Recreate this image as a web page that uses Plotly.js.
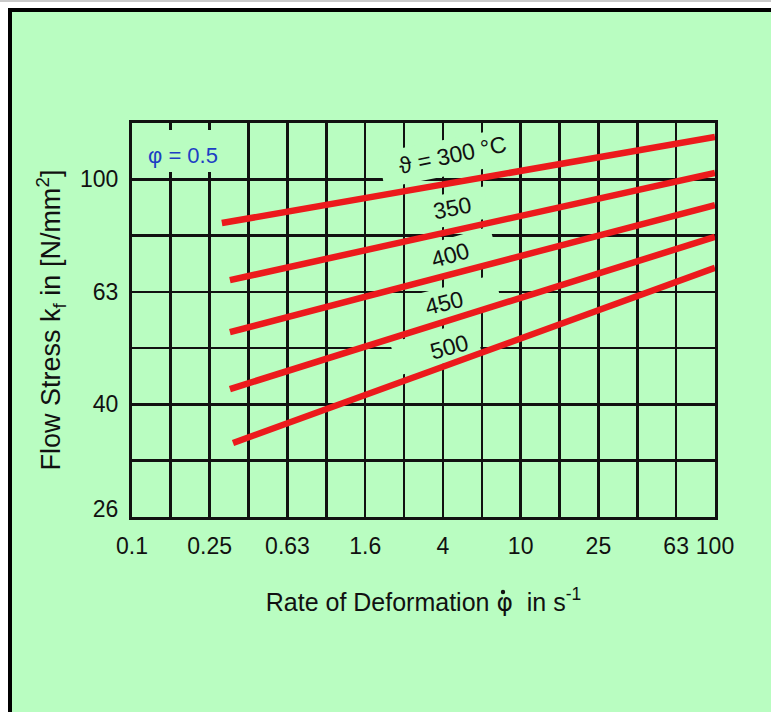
<!DOCTYPE html>
<html><head><meta charset="utf-8">
<script src="https://cdn.plot.ly/plotly-3.0.1.min.js"></script>
<style>
html,body{margin:0;padding:0;background:#fff;width:771px;height:712px;overflow:hidden;}
#topline{position:absolute;left:0;top:0;width:771px;height:2px;background:#c9c9c9;}
#frame{position:absolute;left:8px;top:8px;width:771px;height:712px;background:#b9fdc1;border-left:4px solid #000;border-top:4px solid #000;}
#chart{position:absolute;left:0;top:0;width:771px;height:712px;}
</style></head>
<body>
<div id="topline"></div><div id="frame"></div><div id="chart"></div>
<script>
// ---- data ----
const rateGrid = [0.1,0.158,0.251,0.398,0.631,1,1.585,2.512,3.981,6.31,10,15.85,25.12,39.81,63.1,100];
const rateTickVals = [0.1,0.251,0.631,1.585,3.981,10,25.12,63.1,100];
const rateTickText = ['0.1','0.25','0.63','1.6','4','10','25','63','100'];
const stressGrid = [25.12,31.62,39.81,50.12,63.1,79.43,100,125.9];
const stressTickVals = [26,39.81,63.1,100];
const stressTickText = ['26','40','63','100'];
const temperatures = ['300','350','400','450','500'];
const rateStart = [0.29,0.319,0.319,0.319,0.331];
const rateEnd = [100,100,100,100,100];
const stressStart = [83.6,66.2,53.5,42.4,34.0];
const stressEnd = [118.9,102.6,90.0,79.0,69.6];
const labelTexts = ['\u03D1 = 300 \u00B0C','350','400','450','500'];

// ---- geometry helpers (plot area in px) ----
const L=132, T=123, W=583, H=394;
const XR=[-1,2], YR=[1.4,2.1];
function fx(x){return (x-L)/W;}
function fy(y){return (T+H-y)/H;}
function dx(px){return Math.pow(10, XR[0]+(XR[1]-XR[0])*fx(px));}
function dy(py){return Math.pow(10, YR[0]+(YR[1]-YR[0])*fy(py));}
function rotRectPts(cx,cy,w,h,deg){
  const a=deg*Math.PI/180, c=Math.cos(a), s=Math.sin(a);
  const xs=[], ys=[];
  [[-w/2,-h/2],[w/2,-h/2],[w/2,h/2],[-w/2,h/2],[-w/2,-h/2]].forEach(function(p){
    xs.push(dx(cx+p[0]*c+p[1]*s)); ys.push(dy(cy-p[0]*s+p[1]*c));
  });
  return {x:xs, y:ys};
}
const BG='#b9fdc1';
const FONT='Liberation Sans, Arial, Helvetica, sans-serif';

// masks that interrupt the grid behind the labels (drawn under the curves)
const maskDef = [[445,158,130,36,11],[452,209,70,32,11],[452,255,88,34,16],[455,302,90,34,14],[436,348,86,34,15],[182,151,86,42,0]];
const maskTraces = maskDef.map(function(m){
  const p=rotRectPts(m[0],m[1],m[2],m[3],m[4]);
  return {x:p.x, y:p.y, type:'scatter', mode:'lines', fill:'toself', fillcolor:BG,
    line:{width:0, color:BG}, hoverinfo:'skip', showlegend:false};
});

const curveTraces = temperatures.map(function(t,i){
  return {x:[rateStart[i],rateEnd[i]], y:[stressStart[i],stressEnd[i]], type:'scatter', mode:'lines',
    name:t+' °C', line:{color:'#ec1a1c', width:6.5}, hoverinfo:'skip'};
});

// label positions (px) and angles
const labelPos = [[452,155,-12],[452,208,-11],[450,255,-16],[444,303,-14],[449,347,-15]];
const annotations = labelTexts.map(function(t,i){
  return {xref:'paper', yref:'paper', x:fx(labelPos[i][0]), y:fy(labelPos[i][1]), text:t, showarrow:false,
    textangle:labelPos[i][2], font:{family:FONT, size:23, color:'#111'}, xanchor:'center', yanchor:'middle'};
});
annotations.push({xref:'paper', yref:'paper', x:fx(183), y:fy(155), text:'\u03C6 = 0.5', showarrow:false,
  font:{family:FONT, size:22, color:'#1d3fc4'}, xanchor:'center', yanchor:'middle'});

// dot over the phi of the x title (rate symbol)
const shapes = [{type:'circle', xref:'paper', yref:'paper', x0:fx(500.8), x1:fx(505.2), y0:fy(594.2), y1:fy(589.8),
  fillcolor:'#111', line:{width:0}}];

const axisCommon = {type:'log', showgrid:false, showline:true, mirror:true,
  linecolor:'#111', linewidth:3, zeroline:false, ticks:'outside', tickcolor:'rgba(0,0,0,0)',
  tickfont:{family:FONT, size:23, color:'#111'}};

const layout = {
  width:771, height:712, margin:{l:L, r:771-L-W, t:T, b:712-T-H},
  paper_bgcolor:'rgba(0,0,0,0)', plot_bgcolor:'rgba(0,0,0,0)', showlegend:false,
  xaxis:Object.assign({}, axisCommon, {range:XR, tickmode:'array', tickvals:rateTickVals, ticktext:rateTickText, ticklen:6,
    minor:{tickmode:'array', tickvals:rateGrid, showgrid:true, gridcolor:'#111', gridwidth:2.5, ticks:''},
    title:{text:'Rate of Deformation <span style="font-family:DejaVu Sans">\u03C6</span>  in s<sup>-1</sup>', font:{family:FONT, size:25, color:'#111'}, standoff:36}}),
  yaxis:Object.assign({}, axisCommon, {range:YR, tickmode:'array', tickvals:stressTickVals, ticktext:stressTickText, ticklen:6,
    minor:{tickmode:'array', tickvals:stressGrid, showgrid:true, gridcolor:'#111', gridwidth:2.5, ticks:''},
    title:{text:'Flow Stress k<sub>f</sub> in [N/mm<sup>2</sup>]', font:{family:FONT, size:27, color:'#111'}, standoff:12}}),
  annotations:annotations, shapes:shapes
};
Plotly.newPlot('chart', maskTraces.concat(curveTraces), layout, {displayModeBar:false, staticPlot:true});
</script>
</body></html>
